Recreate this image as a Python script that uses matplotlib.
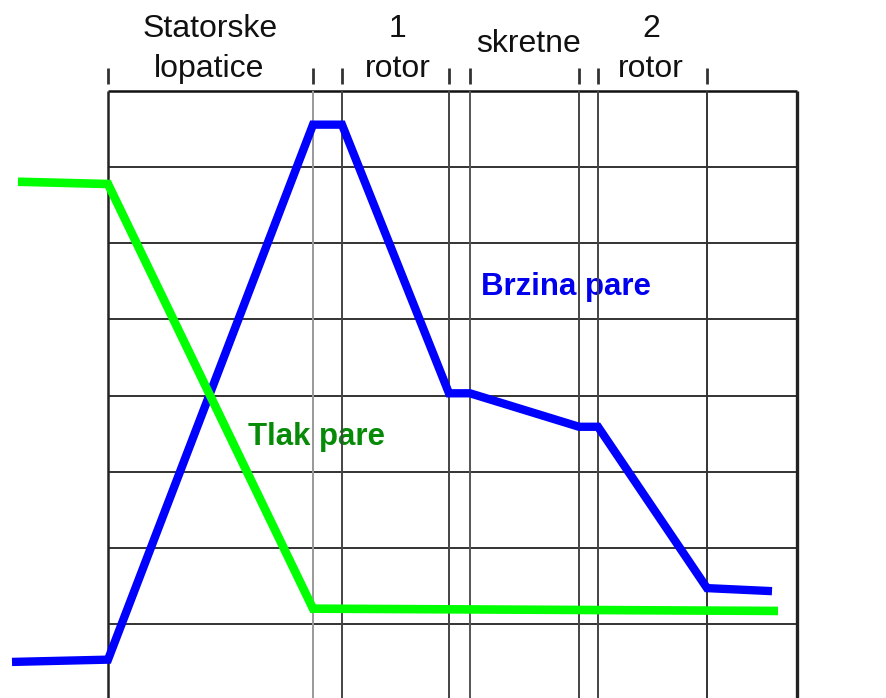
import matplotlib
matplotlib.use('Agg')
import matplotlib.pyplot as plt

plt.rcParams['font.family'] = ['Liberation Sans', 'DejaVu Sans']

# stage boundaries along the turbine (arbitrary length units)
bounds = [0, 20.5, 23.4, 34.1, 36.2, 47.1, 49.0, 59.9, 68.9]
bound_colors = ['#222222', '#999999', '#444444', '#444444', '#555555',
                '#444444', '#444444', '#333333', '#222222']
levels = [0, 1, 2, 3, 4, 5, 6, 7, 8]

# steam velocity (Brzina pare)
vel_x = [-9.6, 0, 20.5, 23.4, 34.1, 36.2, 47.1, 49.0, 59.9, 66.4]
vel_y = [0.50, 0.53, 7.56, 7.56, 4.03, 4.03, 3.59, 3.59, 1.47, 1.43]

# steam pressure (Tlak pare)
pres_x = [-9.0, 0, 20.5, 67.0]
pres_y = [6.81, 6.78, 1.20, 1.17]

# stage labels: (text, x, baseline y)
stage_labels = [
    ('Statorske', 10.2, 8.71),
    ('lopatice', 10.1, 8.19),
    ('1', 29.0, 8.71),
    ('rotor', 29.0, 8.19),
    ('skretne', 42.1, 8.51),
    ('2', 54.3, 8.71),
    ('rotor', 54.3, 8.19),
]

fig = plt.figure(figsize=(8.87, 6.98), dpi=100)
ax = fig.add_axes([0, 0, 1, 1])
ax.set_xlim(-10.8, 77.9)
ax.set_ylim(0.026, 9.198)
ax.axis('off')

# grid
ax.hlines(levels[:-1], bounds[0], bounds[-1], colors='#333333', lw=1.4, zorder=2)
ax.hlines(levels[-1], bounds[0], bounds[-1], colors='#111111', lw=1.8, zorder=2)
for xb, c in zip(bounds, bound_colors):
    w = 2.4 if xb == bounds[-1] else (1.8 if xb == bounds[0] else 1.4)
    ax.vlines(xb, -0.5, levels[-1], colors=c, lw=w, zorder=2)
# small tick marks above the box (none on the right edge)
ax.vlines(bounds[:-1], 8.10, 8.31, colors='#333333', lw=2.0, zorder=2)

# curves
ax.plot(vel_x, vel_y, color='#0000ff', lw=6, solid_capstyle='butt',
        solid_joinstyle='miter', zorder=3)
ax.plot(pres_x, pres_y, color='#00ff00', lw=6.2, solid_capstyle='butt',
        solid_joinstyle='miter', zorder=4)

# texts
for txt, x, y in stage_labels:
    ax.text(x, y, txt, ha='center', va='baseline', fontsize=23,
            color='#111111', zorder=1)

ax.text(45.8, 5.32, 'Brzina pare', ha='center', va='baseline', fontsize=22.5,
        fontweight='bold', color='#0000ee', zorder=1)
ax.text(20.8, 3.35, 'Tlak pare', ha='center', va='baseline', fontsize=22.5,
        fontweight='bold', color='#078a07', zorder=1)

fig.savefig('out.png', dpi=100)
